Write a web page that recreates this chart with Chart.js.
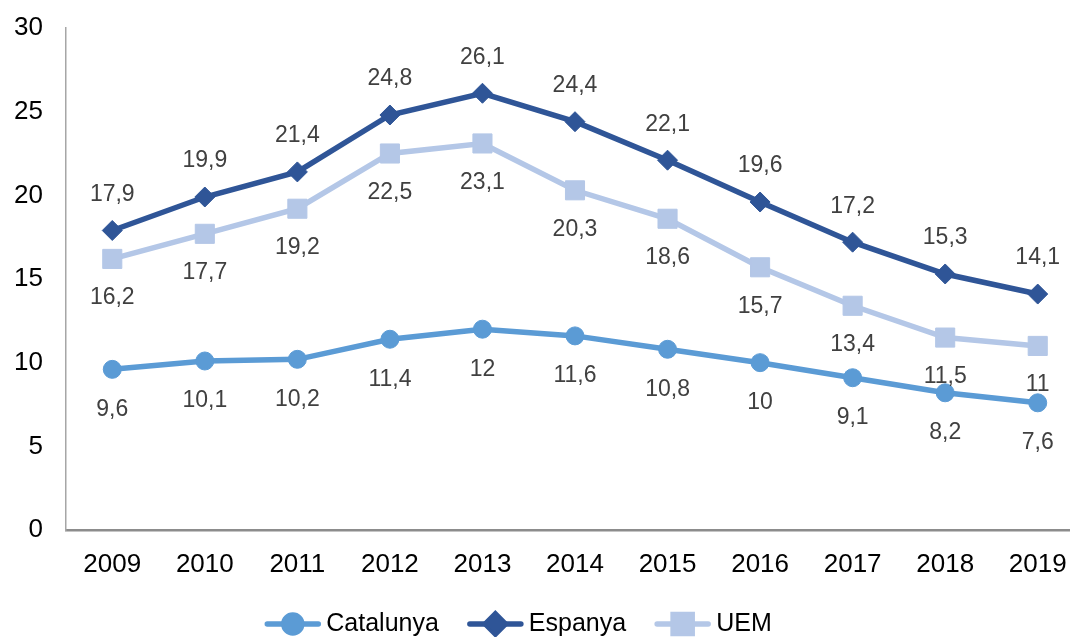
<!DOCTYPE html>
<html>
<head>
<meta charset="utf-8">
<script src="https://cdn.jsdelivr.net/npm/chart.js@4.4.1/dist/chart.umd.min.js"></script>
<style>
  html, body { margin: 0; padding: 0; background: #fff; overflow: hidden; }
  /* the plot runs past the right edge in the original, so the canvas is a bit wider than the window */
  #wrap { width: 1070px; height: 637px; overflow: hidden; position: relative; }
  #chart { display: block; }
</style>
</head>
<body>
<div id="wrap"><canvas id="chart" width="1084" height="637"></canvas></div>
<script>
const years = ['2009', '2010', '2011', '2012', '2013', '2014', '2015', '2016', '2017', '2018', '2019'];
const catalunya = [9.6, 10.1, 10.2, 11.4, 12, 11.6, 10.8, 10, 9.1, 8.2, 7.6];
const espanya = [17.9, 19.9, 21.4, 24.8, 26.1, 24.4, 22.1, 19.6, 17.2, 15.3, 14.1];
const uem = [16.2, 17.7, 19.2, 22.5, 23.1, 20.3, 18.6, 15.7, 13.4, 11.5, 11];
const yTicks = [0, 5, 10, 15, 20, 25, 30];

const FONT = '"Liberation Sans", Arial, sans-serif';

// label offset per dataset (negative = above the point)
const labelOffset = [40, -36, 39];

const fmt = v => String(v).replace('.', ',');

const pointLabels = {
	id: 'pointLabels',
	afterDatasetsDraw(chart) {
		const ctx = chart.ctx;
		ctx.save();
		ctx.font = '23px ' + FONT;
		ctx.fillStyle = '#404040';
		ctx.textAlign = 'center';
		ctx.textBaseline = 'middle';
		chart.data.datasets.forEach((ds, i) => {
			const meta = chart.getDatasetMeta(i);
			meta.data.forEach((pt, j) => {
				ctx.fillText(fmt(ds.data[j]), pt.x, pt.y + labelOffset[i]);
			});
		});
		ctx.restore();
	}
};

// legend: line sample with marker in the middle, then the name
const lineLegend = {
	id: 'lineLegend',
	afterDraw(chart) {
		const ctx = chart.ctx;
		const sample = 57, gap = 5, itemGap = 28, cy = 624;
		ctx.save();
		ctx.font = '25px ' + FONT;
		const items = chart.data.datasets.map(ds => ({ ds, w: ctx.measureText(ds.label).width }));
		let total = 0;
		items.forEach((it, i) => { total += sample + gap + it.w + (i ? itemGap : 0); });
		let x = 518 - total / 2;
		items.forEach(it => {
			const ds = it.ds;
			ctx.strokeStyle = ds.borderColor;
			ctx.lineWidth = ds.borderWidth;
			ctx.lineCap = 'round';
			ctx.beginPath();
			ctx.moveTo(x + 3, cy);
			ctx.lineTo(x + sample - 3, cy);
			ctx.stroke();
			Chart.helpers.drawPoint(ctx, {
				pointStyle: ds.pointStyle,
				radius: ds.pointRadius,
				rotation: 0,
				borderWidth: 1
			}, x + sample / 2, cy);
			ctx.fillStyle = ds.backgroundColor;
			ctx.fill();
			ctx.fillStyle = '#000';
			ctx.textAlign = 'left';
			ctx.textBaseline = 'middle';
			ctx.fillText(ds.label, x + sample + gap, cy);
			x += sample + gap + it.w + itemGap;
		});
		ctx.restore();
	}
};

const makeSet = (label, data, color, style, radius) => ({
	label: label,
	data: data,
	borderColor: color,
	backgroundColor: color,
	borderWidth: 5.5,
	pointStyle: style,
	pointRadius: radius,
	pointHoverRadius: radius,
	pointBorderWidth: 1,
	pointBorderColor: color,
	pointBackgroundColor: color,
	tension: 0,
	clip: false
});

new Chart(document.getElementById('chart'), {
	type: 'line',
	data: {
		labels: years,
		datasets: [
			makeSet('Catalunya', catalunya, '#5B9BD5', 'circle', 9),
			makeSet('Espanya', espanya, '#2F5597', 'rectRot', 10),
			makeSet('UEM', uem, '#B4C7E7', 'rect', 13.5)
		]
	},
	options: {
		responsive: false,
		animation: false,
		layout: { autoPadding: false, padding: { top: 28, bottom: 47, left: 0, right: 0 } },
		plugins: {
			legend: { display: false },
			tooltip: { enabled: false }
		},
		scales: {
			x: {
				offset: true,
				grid: { color: 'transparent', drawTicks: false },
				border: { color: '#8C8C8C', width: 2.5 },
				ticks: { color: '#000', font: { family: FONT, size: 26 }, padding: 19, maxRotation: 0 },
				afterFit(scale) {
					scale.height = 60;
					scale.paddingLeft = 0;
					scale.paddingRight = 0;
				}
			},
			y: {
				min: 0,
				max: 30,
				afterBuildTicks(scale) { scale.ticks = yTicks.map(v => ({ value: v })); },
				grid: { color: 'transparent', drawTicks: false },
				border: { color: '#A6A6A6', width: 1.5 },
				ticks: { color: '#000', font: { family: FONT, size: 26 }, padding: 23 },
				afterFit(scale) {
					scale.width = 66;
					scale.paddingTop = 0;
					scale.paddingBottom = 0;
				}
			}
		}
	},
	plugins: [pointLabels, lineLegend]
});
</script>
</body>
</html>
